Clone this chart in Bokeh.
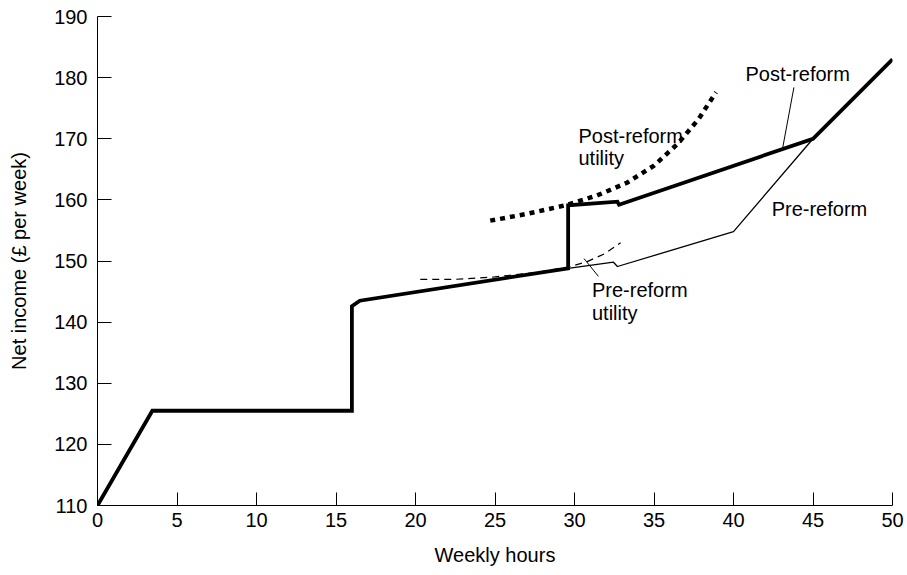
from bokeh.plotting import figure
from bokeh.models import Range1d, Label, FixedTicker
from bokeh.embed import file_html
from bokeh.resources import INLINE

# ---- data ----
# Post-reform budget constraint (thick), hours vs net income
post_hours = [0, 3.45, 16, 16, 16.5, 29.6, 29.6, 32.7, 32.8, 45, 50]
post_income = [110, 125.5, 125.5, 142.6, 143.5, 148.8, 159.1, 159.7, 159.2, 170, 183]

# Pre-reform budget constraint (thin) where it departs from the post-reform one
pre_hours = [29.6, 32.45, 32.7, 40, 45]
pre_income = [148.8, 149.8, 149.1, 154.8, 170]

# Indifference curves
post_util_hours = [24.7, 27.0, 29.4, 31.4, 33.3, 35.0, 36.5, 37.8, 38.9]
post_util_income = [156.6, 157.7, 159.1, 160.7, 162.8, 165.6, 169.2, 173.2, 177.6]

pre_util_hours = [20.3, 22.5, 25.0, 27.5, 29.6, 30.8, 31.9, 32.9]
pre_util_income = [147.0, 147.0, 147.4, 148.1, 149.0, 149.9, 151.2, 153.0]

x_ticks = [0, 5, 10, 15, 20, 25, 30, 35, 40, 45, 50]
y_ticks = [110, 120, 130, 140, 150, 160, 170, 180, 190]

FONT = "Liberation Sans"
FS = "20px"

p = figure(width=907, height=575, output_backend="svg", toolbar_location=None,
           x_range=Range1d(0, 50), y_range=Range1d(110, 190),
           min_border_left=97, min_border_right=15, min_border_top=16,
           min_border_bottom=70)
p.outline_line_color = None
p.xgrid.grid_line_color = None
p.ygrid.grid_line_color = None
p.background_fill_color = "white"
p.border_fill_color = "white"

for ax in (p.xaxis[0], p.yaxis[0]):
    ax.axis_line_color = "black"
    ax.axis_line_width = 1
    ax.major_tick_line_color = "black"
    ax.major_tick_out = 0
    ax.minor_tick_line_color = None
    ax.major_label_text_font = FONT
    ax.major_label_text_font_size = FS
    ax.major_label_text_color = "black"
    ax.axis_label_text_font = FONT
    ax.axis_label_text_font_size = FS
    ax.axis_label_text_font_style = "normal"
    ax.axis_label_text_color = "black"

p.xaxis.ticker = FixedTicker(ticks=x_ticks)
p.yaxis.ticker = FixedTicker(ticks=y_ticks)
p.xaxis.major_tick_in = 13
p.yaxis.major_tick_in = 14
p.xaxis.major_label_standoff = 7
p.yaxis.major_label_standoff = 10
p.xaxis.axis_label = "Weekly hours"
p.yaxis.axis_label = "Net income (£ per week)"
p.xaxis.axis_label_standoff = 14
p.yaxis.axis_label_standoff = 21

# curves
p.line(pre_util_hours, pre_util_income, line_color="black", line_width=1.2, line_dash="7 5")
p.line(post_util_hours, post_util_income, line_color="black", line_width=4.5, line_dash="5 5")
p.line(pre_hours, pre_income, line_color="black", line_width=1.3)
p.line(post_hours, post_income, line_color="black", line_width=3.8, line_join="miter")

# leader lines for annotations
leader_x0 = [43.8, 30.6]
leader_y0 = [178.4, 150.4]
leader_x1 = [43.1, 31.5]
leader_y1 = [168.6, 147.5]
p.segment(leader_x0, leader_y0, leader_x1, leader_y1, line_color="black", line_width=1)

def lab(x, y, t):
    p.add_layout(Label(x=x, y=y, text=t, text_font=FONT, text_font_size=FS,
                       text_color="black", text_baseline="middle", text_align="left"))

lab(40.75, 180.6, "Post-reform")
lab(42.4, 158.5, "Pre-reform")
lab(30.25, 170.5, "Post-reform")
lab(30.25, 166.9, "utility")
lab(31.1, 145.2, "Pre-reform")
lab(31.1, 141.5, "utility")

open("out.html", "w").write(file_html(p, INLINE))
